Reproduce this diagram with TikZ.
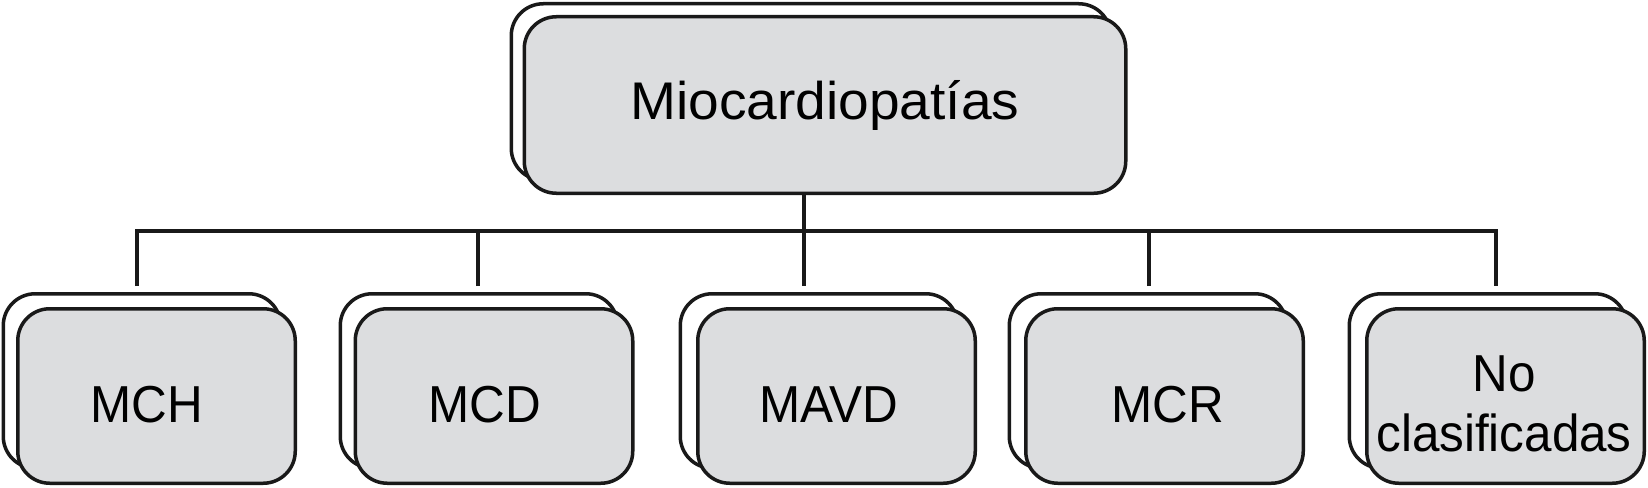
\documentclass[tikz,border=0pt]{standalone}
\usepackage{fontspec}
\setmainfont{Liberation Sans}
\newfontfamily\bottomfont[FakeStretch=0.95]{Liberation Sans}
\newfontfamily\topfont[FakeStretch=1.04]{Liberation Sans}
\definecolor{boxgray}{HTML}{DCDDDF}
\begin{document}
\begin{tikzpicture}[x=1pt,y=-1pt,
  box/.style={draw=black!90, line width=3.5pt, rounded corners=32pt, inner sep=0pt,
    minimum width=277.5pt, minimum height=174.5pt},
  backbox/.style={box, fill=white},
  frontbox/.style={box, fill=boxgray},
  lbl/.style={inner sep=0pt, align=center, font=\bottomfont\fontsize{52}{60}\selectfont},
  topback/.style={backbox, minimum width=599.5pt, minimum height=176.5pt},
  topfront/.style={box, fill=boxgray, minimum width=601.5pt, minimum height=176.5pt, font=\topfont\fontsize{53}{60}\selectfont},
  conn/.style={draw=black!90, line width=3.3pt}]
\useasboundingbox (0,0) rectangle (1648,487);
% top
\node[topback] (tb) at (811,92) {};
\node[topfront] (top) at (825,105) {Miocardiopatías};
% bottom
\node[backbox] (b1) at (142,381) {};
\node[frontbox] (n1) at (156.5,396) {};
\node[lbl] (l1) at ([xshift=-9.5pt,yshift=-9pt]n1.center) {MCH};
\node[backbox] (b2) at (479,381) {};
\node[frontbox] (n2) at (494,396) {};
\node[lbl] (l2) at ([xshift=-9pt,yshift=-9pt]n2.center) {MCD};
\node[backbox] (b3) at (819,381) {};
\node[frontbox] (n3) at (836.5,396) {};
\node[lbl] (l3) at ([xshift=-7.5pt,yshift=-9pt]n3.center) {MAVD};
\node[backbox] (b4) at (1148,381) {};
\node[frontbox] (n4) at (1164.5,396) {};
\node[lbl] (l4) at ([xshift=3.5pt,yshift=-9pt]n4.center) {MCR};
\node[backbox] (b5) at (1488,381) {};
\node[frontbox] (n5) at (1505.5,396) {};
\node[lbl] (l5) at ([xshift=-1.5pt,yshift=-8pt]n5.center) {No\\clasificadas};
% connectors
\coordinate (hub) at (804,231);
\coordinate (d1) at (137,286);
\coordinate (d2) at (478,286);
\coordinate (d3) at (804,286);
\coordinate (d4) at (1149,286);
\coordinate (d5) at (1496,286);
\draw[conn] (top.south -| hub) -- (d3);
\draw[conn] (d1) |- (d5 |- hub) -- (d5);
\draw[conn] (d2) -- (d2 |- hub);
\draw[conn] (d4) -- (d4 |- hub);
\end{tikzpicture}
\end{document}
